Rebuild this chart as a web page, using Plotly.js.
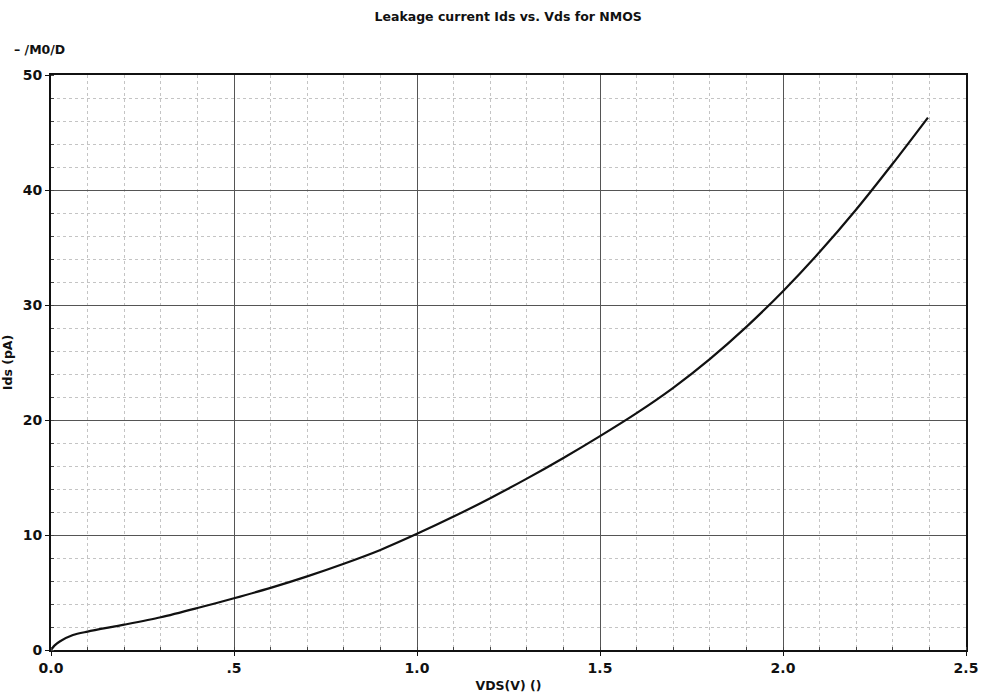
<!DOCTYPE html>
<html>
<head>
<meta charset="utf-8">
<script src="https://cdn.plot.ly/plotly-3.0.1.min.js"></script>
<style>html,body{margin:0;padding:0;background:#fff;}</style>
</head>
<body>
<div id="chart" style="width:983px;height:694px;"></div>
<script>
const vds = [0, 0.01, 0.025, 0.06, 0.1, 0.2, 0.3, 0.4, 0.5, 0.6, 0.7, 0.8, 0.9, 1.0, 1.1, 1.2, 1.3, 1.4, 1.5, 1.6, 1.7, 1.8, 1.9, 2.0, 2.1, 2.2, 2.3, 2.396];
const ids = [0, 0.4, 0.76, 1.3, 1.6, 2.2, 2.85, 3.65, 4.5, 5.4, 6.4, 7.5, 8.7, 10.1, 11.6, 13.2, 14.9, 16.7, 18.6, 20.6, 22.8, 25.3, 28.1, 31.2, 34.6, 38.3, 42.3, 46.3];
const xTickVals = [0, 0.5, 1.0, 1.5, 2.0, 2.5];
const xTickText = ["0.0", ".5", "1.0", "1.5", "2.0", "2.5"];
const yTickVals = [0, 10, 20, 30, 40, 50];
const yTickText = ["0", "10", "20", "30", "40", "50"];

const font = "DejaVu Sans, Verdana, sans-serif";

Plotly.newPlot("chart", [{
  x: vds, y: ids, type: "scatter", mode: "lines",
  line: {color: "#111", width: 2.2, shape: "spline", smoothing: 0.8},
  hoverinfo: "skip"
}], {
  width: 983, height: 694,
  margin: {l: 51, r: 17, t: 75, b: 44},
  paper_bgcolor: "#fff", plot_bgcolor: "#fff",
  showlegend: false,
  title: {text: "<b>Leakage current Ids vs. Vds for NMOS</b>", x: 0.517, xanchor: "center", y: 0.976, yanchor: "middle",
          font: {family: font, size: 12.5, color: "#111"}},
  xaxis: {
    range: [0, 2.5], tickvals: xTickVals, ticktext: xTickText,
    tickfont: {family: font, size: 14, color: "#111", weight: "bold"},
    ticks: "outside", ticklen: 4, tickcolor: "#111",
    showline: true, linecolor: "#111", linewidth: 2, mirror: true,
    showgrid: true, gridcolor: "#555", gridwidth: 1,
    zeroline: false,
    minor: {dtick: 0.1, showgrid: true, gridcolor: "#c4c4c4", griddash: "dot", gridwidth: 1, ticks: "inside", ticklen: 3, tickcolor: "#444"},
    title: {text: "<b>VDS(V) ()</b>", font: {family: font, size: 12.5, color: "#111"}, standoff: 6}
  },
  yaxis: {
    range: [0, 50], tickvals: yTickVals, ticktext: yTickText,
    tickfont: {family: font, size: 14, color: "#111", weight: "bold"},
    ticks: "outside", ticklen: 4, tickcolor: "#111",
    showline: true, linecolor: "#111", linewidth: 2, mirror: true,
    showgrid: true, gridcolor: "#555", gridwidth: 1,
    zeroline: false,
    minor: {dtick: 2, showgrid: true, gridcolor: "#c4c4c4", griddash: "dot", gridwidth: 1, ticks: "inside", ticklen: 3, tickcolor: "#444"},
    title: {text: "<b>Ids (pA)</b>", font: {family: font, size: 12.5, color: "#111"}, standoff: 8}
  },
  annotations: [{
    text: "<b>\u2013 /M0/D</b>", xref: "paper", yref: "paper", x: -0.043, y: 1.045,
    xanchor: "left", yanchor: "middle", showarrow: false,
    font: {family: font, size: 12.5, color: "#111"}
  }]
}, {staticPlot: true});
</script>
</body>
</html>
